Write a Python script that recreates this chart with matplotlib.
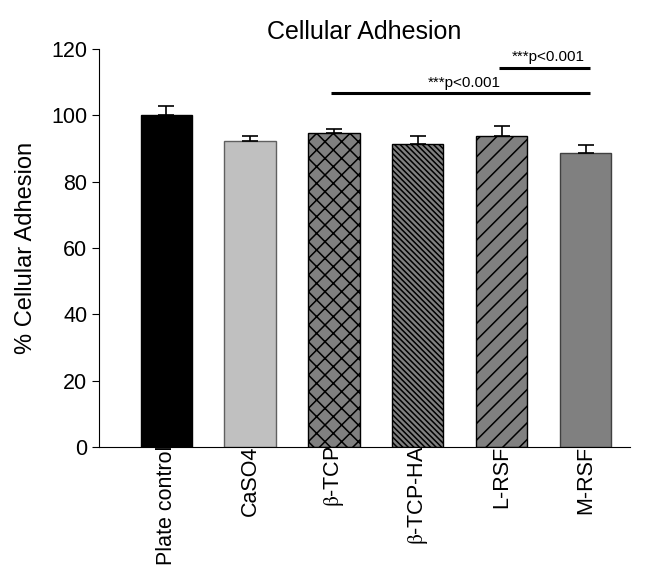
import numpy as np
import matplotlib
matplotlib.use('Agg')
import matplotlib.pyplot as plt

plt.rcParams['font.family'] = ['Liberation Sans', 'DejaVu Sans']
plt.rcParams['mathtext.fontset'] = 'stix'
plt.rcParams['hatch.linewidth'] = 1.1

groups = ['Plate control', 'CaSO4', r'$\mathrm{\beta}$-TCP', r'$\mathrm{\beta}$-TCP-HA', 'L-RSF', 'M-RSF']
means = [100.0, 92.2, 94.6, 91.3, 93.7, 88.7]
errs = [2.8, 1.6, 1.1, 2.3, 2.9, 2.3]
colors = ['#000000', '#c0c0c0', '#808080', '#808080', '#808080', '#808080']
edges = ['#000000', '#606060', '#000000', '#000000', '#000000', '#404040']
hatches = [None, None, 'xx', '\\\\\\\\\\\\', '//', None]

# significance brackets: (from bar, to bar, height, label)
sig = [(2, 5, 106.7, '***p<0.001'), (4, 5, 114.3, '***p<0.001')]

fig = plt.figure(figsize=(6.47, 5.68), dpi=100)
ax = fig.add_axes([0.153, 0.213, 0.821, 0.701])
ax.set_axisbelow(False)

x = np.arange(len(groups))
for i in x:
    ax.bar(i, means[i], width=0.61, color=colors[i], edgecolor=edges[i],
           linewidth=1.0, hatch=hatches[i], zorder=2)
ax.errorbar(x, means, yerr=[np.zeros(len(errs)), errs], fmt='none',
            ecolor='black', elinewidth=1.2, capsize=6, capthick=1.2, zorder=3)

for a, b, h, lab in sig:
    ax.plot([a - 0.03, b + 0.05], [h, h], color='black', lw=2.2, solid_capstyle='butt')
    ax.text((a + b) / 2 + 0.05, h + 1.0, lab, ha='center', va='bottom', fontsize=11)

ax.set_xlim(-0.8, 5.53)
ax.set_ylim(0, 120)
ax.set_yticks(np.arange(0, 121, 20))
ax.set_xticks(x)
ax.set_xticklabels(groups, rotation=90, fontsize=15.5)
ax.tick_params(axis='x', length=0, pad=-1)
ax.tick_params(axis='y', labelsize=15.5, direction='out', length=5)
ax.spines['top'].set_visible(False)
ax.spines['right'].set_visible(False)
ax.set_ylabel('% Cellular Adhesion', fontsize=17, labelpad=10)
ax.set_title('Cellular Adhesion', fontsize=18, pad=7)

fig.savefig('out.png', dpi=100)
